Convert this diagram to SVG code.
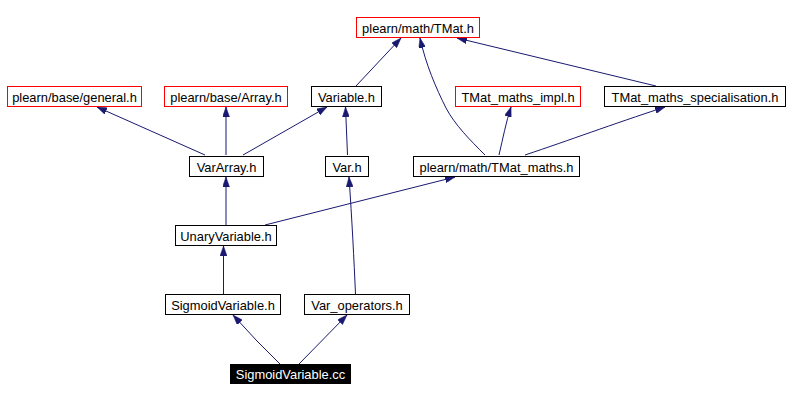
<svg xmlns="http://www.w3.org/2000/svg" width="790" height="401" viewBox="0 0 790 401">
<style>
.n rect{fill:#fff;stroke:#000;stroke-width:1}
.r rect{stroke:#f00}
.t{font-family:"Liberation Sans",Arial,sans-serif;font-size:12.9px;fill:#000;text-anchor:middle}
.e{fill:none;stroke:#191970;stroke-width:1;marker-end:url(#a)}
</style>
<defs>
<marker id="a" markerWidth="10" markerHeight="7" refX="10" refY="3.5" orient="auto" markerUnits="userSpaceOnUse">
<path d="M0,0 L10,3.5 L0,7 z" fill="#191970" stroke="#191970" stroke-width="0.5"/>
</marker>
</defs>
<rect width="790" height="401" fill="#fff"/>
<g id="edges">
<path class="e" d="M205,155 L97,107"/>
<path class="e" d="M226,155 L226,107"/>
<path class="e" d="M243,155 L327,107"/>
<path class="e" d="M347.5,155 L345.5,107"/>
<path class="e" d="M356,86 L401,38"/>
<path class="e" d="M485,155 C470,140 455,125 446,108 C436,88 426,65 420,38"/>
<path class="e" d="M499,155 C503,138 506,122 511,107"/>
<path class="e" d="M525,155 C570,140 610,125 665,107"/>
<path class="e" d="M656,86 L457,38"/>
<path class="e" d="M226,225 L226,177"/>
<path class="e" d="M265,225 L455,177"/>
<path class="e" d="M223.5,294 L223.5,246"/>
<path class="e" d="M355.5,294 C354,260 352,220 349,177"/>
<path class="e" d="M280,364 L257,341 L233,315"/>
<path class="e" d="M299,364 L347,315"/>
</g>
<g id="n_tmat" class="n r"><rect x="356.5" y="17.5" width="123" height="20"/><text class="t" x="418" y="32.5">plearn/math/TMat.h</text></g>
<g id="n_general" class="n r"><rect x="7.5" y="86.5" width="134" height="20"/><text class="t" x="74.5" y="101.5">plearn/base/general.h</text></g>
<g id="n_array" class="n r"><rect x="164.5" y="86.5" width="123" height="20"/><text class="t" x="226" y="101.5">plearn/base/Array.h</text></g>
<g id="n_variable" class="n"><rect x="311.5" y="86.5" width="70" height="20"/><text class="t" x="346.5" y="101.5">Variable.h</text></g>
<g id="n_impl" class="n r"><rect x="455.5" y="86.5" width="125" height="20"/><text class="t" x="518" y="101.5">TMat_maths_impl.h</text></g>
<g id="n_spec" class="n"><rect x="604.5" y="86.5" width="181" height="20"/><text class="t" x="695" y="101.5">TMat_maths_specialisation.h</text></g>
<g id="n_vararray" class="n"><rect x="189.5" y="156.5" width="74" height="20"/><text class="t" x="226.5" y="171.5">VarArray.h</text></g>
<g id="n_var" class="n"><rect x="325.5" y="156.5" width="43" height="20"/><text class="t" x="347" y="171.5">Var.h</text></g>
<g id="n_tmatmaths" class="n"><rect x="413.5" y="156.5" width="166" height="20"/><text class="t" x="496.5" y="171.5">plearn/math/TMat_maths.h</text></g>
<g id="n_unary" class="n"><rect x="175.5" y="225.5" width="101" height="20"/><text class="t" x="226" y="240.5">UnaryVariable.h</text></g>
<g id="n_sigh" class="n"><rect x="165.5" y="294.5" width="115" height="20"/><text class="t" x="223" y="309.5">SigmoidVariable.h</text></g>
<g id="n_varops" class="n"><rect x="304.5" y="294.5" width="105" height="20"/><text class="t" x="357" y="309.5">Var_operators.h</text></g>
<g id="n_sigcc"><rect x="230" y="364" width="121" height="20" fill="#000"/><text class="t" x="290.5" y="379" style="fill:#fff">SigmoidVariable.cc</text></g>
</svg>
